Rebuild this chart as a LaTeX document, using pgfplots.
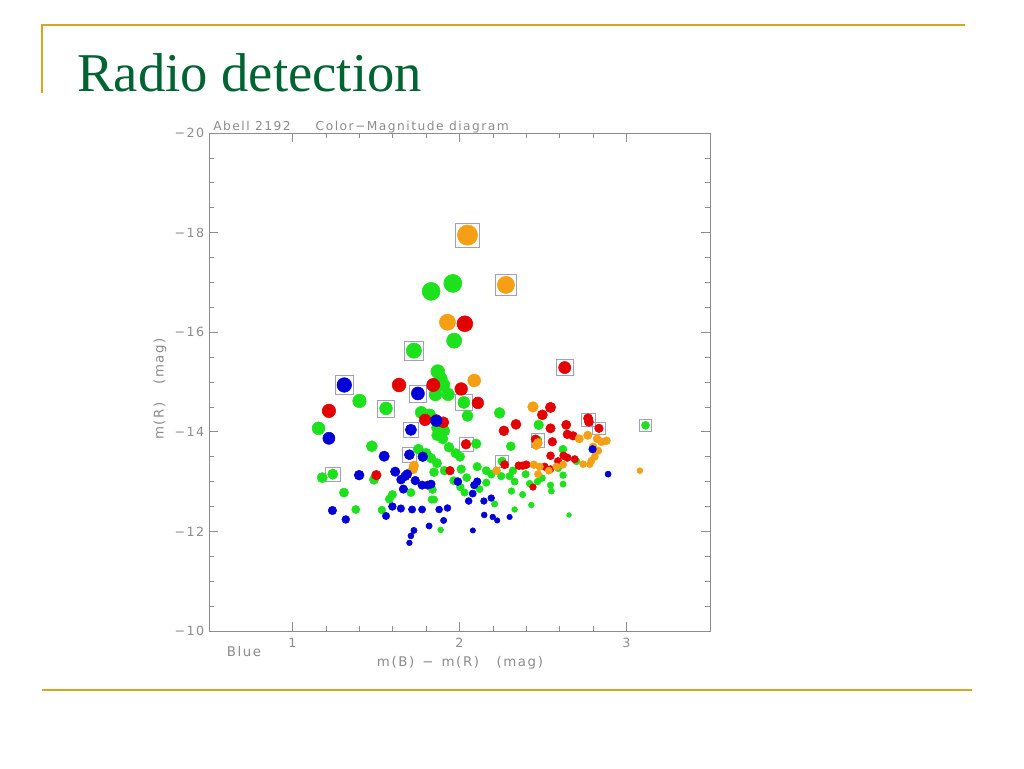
\documentclass[border=0pt]{standalone}
\usepackage{pgfplots}
\pgfplotsset{compat=1.18}
\usepackage{pgfplotstable}
\usepackage{fontspec}
\setmainfont{Liberation Serif}
\newfontfamily\plotfont[LetterSpace=12]{DejaVu Sans}

\definecolor{gold}{RGB}{218,165,32}
\definecolor{titlegreen}{RGB}{0,100,50}
\definecolor{cgreen}{RGB}{30,225,30}
\definecolor{cblue}{RGB}{0,0,215}
\definecolor{cred}{RGB}{228,0,0}
\definecolor{corange}{RGB}{245,160,20}
\definecolor{axgray}{RGB}{140,140,140}
\definecolor{boxgray}{RGB}{160,160,190}

% colour m(B)-m(R) against magnitude m(R)
\pgfplotstableread{
x y
1.960 -16.98
1.830 -16.82
1.968 -15.83
1.727 -15.63
1.870 -15.21
1.887 -15.06
1.903 -14.94
1.856 -14.75
1.932 -14.75
1.401 -14.62
2.026 -14.59
1.560 -14.47
1.771 -14.39
1.821 -14.34
2.048 -14.32
2.240 -14.38
1.865 -14.08
1.910 -14.02
1.865 -13.93
1.900 -13.86
1.156 -14.07
2.474 -14.14
3.114 -14.13
2.467 -13.83
2.100 -13.76
2.307 -13.71
2.255 -13.41
2.619 -13.65
2.700 -13.41
1.475 -13.71
1.754 -13.65
1.800 -13.57
1.830 -13.47
1.865 -13.37
1.937 -13.69
1.977 -13.57
2.003 -13.50
1.847 -13.19
1.488 -13.04
1.241 -13.15
1.178 -13.08
1.308 -12.78
1.598 -12.74
1.580 -12.65
1.379 -12.44
1.535 -12.43
1.709 -12.78
1.838 -12.84
1.834 -12.64
1.847 -12.64
1.887 -12.03
1.910 -13.22
2.010 -13.25
2.043 -13.08
1.965 -13.02
2.005 -12.89
2.030 -12.78
2.106 -13.30
2.160 -13.22
2.190 -13.15
2.120 -12.85
2.160 -12.98
2.210 -12.55
2.250 -13.11
2.300 -13.11
2.320 -13.22
2.311 -12.81
2.330 -13.00
2.378 -12.74
2.396 -13.15
2.420 -12.96
2.330 -12.44
2.430 -12.53
2.467 -13.00
2.494 -13.07
2.545 -12.93
2.550 -12.81
2.620 -13.13
2.620 -12.95
2.590 -13.27
2.656 -12.33
}\greendata

\pgfplotstableread{
x y
2.032 -16.17
2.630 -15.29
1.638 -14.94
1.843 -14.94
2.010 -14.86
2.110 -14.58
1.218 -14.42
1.794 -14.24
1.861 -14.23
1.903 -14.19
2.545 -14.49
2.496 -14.34
2.338 -14.15
2.266 -14.02
2.545 -14.07
2.639 -14.14
2.770 -14.27
2.775 -14.20
2.835 -14.07
2.646 -13.95
2.680 -13.92
2.556 -13.80
2.455 -13.85
2.039 -13.75
2.270 -13.34
2.545 -13.52
2.623 -13.52
2.646 -13.48
2.590 -13.41
2.690 -13.45
1.943 -13.22
1.502 -13.13
2.355 -13.32
2.378 -13.32
2.400 -13.34
2.440 -12.89
2.510 -13.30
2.545 -13.25
}\reddata

\pgfplotstableread{
x y
2.048 -17.95
2.278 -16.95
1.928 -16.20
2.088 -15.03
2.440 -14.50
2.717 -13.86
2.768 -13.93
2.824 -13.86
2.880 -13.82
2.850 -13.80
2.460 -13.73
2.470 -13.78
2.800 -13.70
2.830 -13.62
2.810 -13.50
2.790 -13.42
2.740 -13.35
2.780 -13.35
3.080 -13.22
1.727 -13.32
1.722 -13.25
2.222 -13.22
2.445 -13.34
2.480 -13.30
2.535 -13.22
2.580 -13.30
2.620 -13.34
2.470 -13.15
}\orangedata

\pgfplotstableread{
x y
1.310 -14.94
1.751 -14.77
1.218 -13.87
1.709 -14.04
1.700 -13.54
1.780 -13.50
1.549 -13.51
1.615 -13.20
1.650 -13.04
1.675 -13.11
1.687 -13.15
1.735 -13.02
1.776 -12.93
1.810 -12.93
1.830 -12.95
1.664 -12.85
1.399 -13.13
1.239 -12.42
1.319 -12.24
1.560 -12.31
1.598 -12.50
1.649 -12.46
1.716 -12.44
1.776 -12.44
1.878 -12.44
1.928 -12.47
1.905 -12.22
1.818 -12.11
1.727 -12.02
1.709 -11.91
1.700 -11.77
2.080 -12.02
1.990 -13.00
2.055 -12.61
2.079 -12.76
2.088 -12.93
2.106 -13.00
2.146 -12.61
2.190 -12.67
2.148 -12.33
2.199 -12.29
2.226 -12.22
2.300 -12.29
2.797 -13.65
2.890 -13.15
1.861 -14.22
}\bluedata

% radio detections (boxed)
\pgfplotstableread{
x y
2.048 -17.95
2.278 -16.95
1.727 -15.63
2.630 -15.29
1.310 -14.94
1.751 -14.77
1.560 -14.47
2.026 -14.59
1.241 -13.15
1.700 -13.54
2.039 -13.75
2.255 -13.41
2.770 -14.24
2.835 -14.07
3.114 -14.13
2.467 -13.83
1.709 -14.04
}\boxdata

\pgfplotsset{
  dots/.style={scatter, only marks, mark=*,
    visualization depends on={max(1.8,0.375*(5.5+2.5*(-\thisrow{x}-\thisrow{y}-10)))\as\msz},
    scatter/use mapped color={draw=#1, fill=#1},
    scatter/@pre marker code/.append style={/tikz/mark size=\msz}},
}

\begin{document}
\begin{tikzpicture}[x=0.75pt,y=-0.75pt]
\fill[white] (0,0) rectangle (1024,768);
\draw[gold, line width=1.5pt] (42,25) -- (965,25);
\draw[gold, line width=1.5pt] (42,24.2) -- (42,93);
\draw[gold, line width=1.5pt] (42,690) -- (972,690);
\node[anchor=base west, text=titlegreen, font=\fontsize{41}{41}\selectfont, inner sep=0] at (77,91) {Radio detection};

\begin{axis}[
    at={(156.75pt,-473.25pt)}, anchor=south west,
    scale only axis, width=375.75pt, height=373.5pt,
    xmin=0.5, xmax=3.5, ymin=-20, ymax=-10, y dir=reverse,
    xtick={1,2,3}, ytick={-20,-18,-16,-14,-12,-10},
    yticklabels={−20,−18,−16,−14,−12,−10},
    minor x tick num=4, minor y tick num=3,
    tick align=inside, major tick length=6.5pt, minor tick length=3.5pt,
    axis line style={axgray, line width=0.5pt},
    every tick/.style={axgray, line width=0.5pt},
    xtick pos=both, ytick pos=both,
    tick label style={font=\plotfont\fontsize{9.5}{10}\selectfont, text=axgray},
    /pgf/number format/assume math mode=true,
    xticklabel style={yshift=-2pt},
    clip=false,
  ]
  \addplot[scatter, only marks, mark=square,
    visualization depends on={max(1.8,0.375*(5.5+2.5*(-\thisrow{x}-\thisrow{y}-10)))+1.6\as\bsz},
    scatter/use mapped color={draw=boxgray, line width=0.45pt},
    scatter/@pre marker code/.append style={/tikz/mark size=\bsz}]
    table {\boxdata};
  \addplot[dots=cgreen] table {\greendata};
  \addplot[dots=cred] table {\reddata};
  \addplot[dots=corange] table {\orangedata};
  \addplot[dots=cblue] table {\bluedata};
\end{axis}

\node[anchor=base west, inner sep=0, text=axgray, font=\plotfont\fontsize{9.2}{10}\selectfont] at (213,130) {Abell 2192\quad\ \ \,Color−Magnitude diagram};
\node[text=axgray, font=\plotfont\fontsize{10}{10}\selectfont] at (244,652) {Blue};
\node[text=axgray, font=\plotfont\fontsize{10}{10}\selectfont] at (460,663) {m(B) \,−\, m(R)\ \ \ (mag)};
\node[text=axgray, rotate=90, font=\plotfont\fontsize{10}{10}\selectfont] at (160,389) {m(R)\ \ \ (mag)};
\end{tikzpicture}
\end{document}
